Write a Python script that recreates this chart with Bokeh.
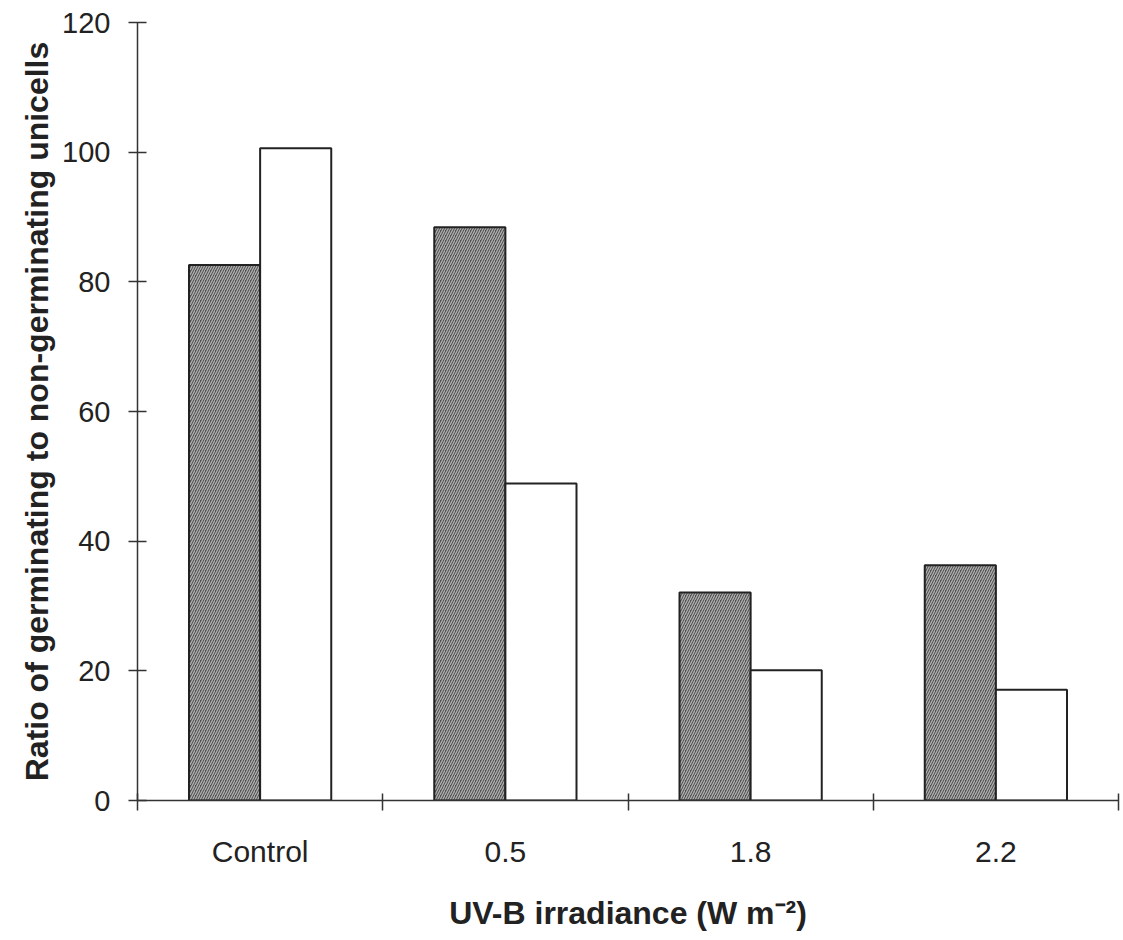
from bokeh.plotting import figure
from bokeh.models import FixedTicker, Range1d
from bokeh.embed import file_html
from bokeh.resources import INLINE
import numpy as np

categories = ["Control", "0.5", "1.8", "2.2"]
dark_values = [82.6, 88.4, 32.1, 36.3]
white_values = [100.6, 48.9, 20.1, 17.1]
y_ticks = [0, 20, 40, 60, 80, 100, 120]

centers = np.arange(len(categories)) + 0.5
bw = 0.29

p = figure(width=1120, height=936, output_backend="svg", toolbar_location=None,
           x_range=Range1d(0, len(categories)), y_range=Range1d(0, 120),
           min_border_left=137, min_border_right=2, min_border_top=22, min_border_bottom=136)
p.outline_line_color = None
p.grid.grid_line_color = None
p.background_fill_color = "white"

p.vbar(x=centers - bw / 2, top=dark_values, width=bw, bottom=0,
       fill_color="#4f4f4f", hatch_pattern="/", hatch_color="#b0b0b0",
       hatch_scale=5, hatch_weight=1.3, line_color="#222222", line_width=2)
p.vbar(x=centers + bw / 2, top=white_values, width=bw, bottom=0,
       fill_color="white", line_color="#222222", line_width=2)

font = "Liberation Sans"

xa = p.xaxis[0]
xa.ticker = FixedTicker(ticks=list(centers), minor_ticks=list(range(len(categories) + 1)))
xa.major_label_overrides = {float(c): lab for c, lab in zip(centers, categories)}
xa.major_tick_in = 0
xa.major_tick_out = 0
xa.minor_tick_in = 7
xa.minor_tick_out = 10
xa.minor_tick_line_color = "#333333"
xa.minor_tick_line_width = 1.5
xa.axis_line_color = "#333333"
xa.axis_line_width = 1.5
xa.major_label_text_font = font
xa.major_label_text_font_size = "30px"
xa.major_label_text_color = "#222222"
xa.major_label_standoff = 24
xa.axis_label = "UV-B irradiance (W m\u207b\u00b2)"
xa.axis_label_text_font = font
xa.axis_label_text_font_style = "bold"
xa.axis_label_text_font_size = "32px"
xa.axis_label_text_color = "#222222"
xa.axis_label_standoff = 24

ya = p.yaxis[0]
ya.ticker = FixedTicker(ticks=y_ticks, minor_ticks=[])
ya.major_tick_in = 9
ya.major_tick_out = 9
ya.major_tick_line_color = "#333333"
ya.major_tick_line_width = 1.5
ya.axis_line_color = "#333333"
ya.axis_line_width = 1.5
ya.major_label_text_font = font
ya.major_label_text_font_size = "29px"
ya.major_label_text_color = "#222222"
ya.major_label_standoff = 18
ya.axis_label = "Ratio of germinating to non-germinating unicells"
ya.axis_label_text_font = font
ya.axis_label_text_font_style = "bold"
ya.axis_label_text_font_size = "32px"
ya.axis_label_text_color = "#222222"
ya.axis_label_standoff = 4

open("out.html", "w").write(file_html(p, INLINE))
